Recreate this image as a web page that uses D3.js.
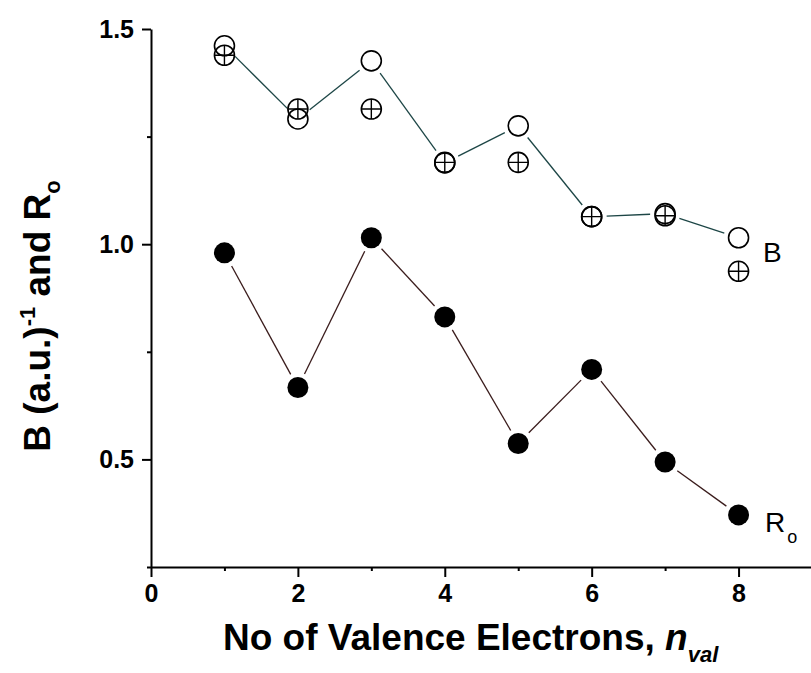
<!DOCTYPE html>
<html><head><meta charset="utf-8">
<script src="https://cdn.jsdelivr.net/npm/d3@7"></script>
<style>body{margin:0;background:#fff} svg{display:block}</style>
</head><body>
<svg id="chart" width="811" height="673"></svg>
<script>
// Number of valence electrons
const nVal = [1, 2, 3, 4, 5, 6, 7, 8];
// B (a.u.)^-1, open circles (connected)
const bOpen = [1.461, 1.291, 1.426, 1.189, 1.275, 1.064, 1.071, 1.015];
// B (a.u.)^-1, crossed circles
const bCrossed = [1.439, 1.314, 1.314, 1.190, 1.190, 1.064, 1.066, 0.937];
// R_o, filled circles (connected)
const rO = [0.980, 0.667, 1.015, 0.831, 0.537, 0.709, 0.494, 0.371];

const xTicks = [0, 2, 4, 6, 8];
const xMinorTicks = [1, 3, 5, 7];
const yTicks = [0.5, 1.0, 1.5];
const yMinorTicks = [0.25, 0.75, 1.25];

const svg = d3.select('#chart');
const x = d3.scaleLinear().domain([0, 9]).range([151, 812]);
const y = d3.scaleLinear().domain([0.25, 1.5]).range([567, 29]);
const FONT = "'Liberation Sans', Arial, Helvetica, sans-serif";

// ---- axes ----
const xAxis = svg.append('g').attr('transform', `translate(0,${y(0.25)})`)
  .call(d3.axisBottom(x).tickValues(xTicks).tickSize(10).tickSizeOuter(0)
    .tickPadding(7).tickFormat(d3.format('d')));
svg.append('g').attr('transform', `translate(0,${y(0.25)})`)
  .call(d3.axisBottom(x).tickValues(xMinorTicks).tickSize(4).tickFormat(''))
  .call(g => g.select('.domain').remove());

const yAxis = svg.append('g').attr('transform', `translate(${x(0)},0)`)
  .call(d3.axisLeft(y).tickValues(yTicks).tickSize(9).tickSizeOuter(0)
    .tickPadding(8).tickFormat(d3.format('.1f')));
svg.append('g').attr('transform', `translate(${x(0)},0)`)
  .call(d3.axisLeft(y).tickValues(yMinorTicks).tickSize(4).tickFormat(''))
  .call(g => g.select('.domain').remove());

svg.selectAll('.domain').attr('stroke', '#000').attr('stroke-width', 2);
svg.selectAll('.tick line').attr('stroke', '#000').attr('stroke-width', 2);
svg.selectAll('.tick text')
  .attr('font-family', FONT).attr('font-weight', 'bold')
  .attr('font-size', 25).attr('fill', '#000');

// ---- connecting lines, broken short of each marker ----
function gappedSegments(xs, ys, gap) {
  const segs = [];
  for (let i = 0; i < xs.length - 1; i++) {
    const x1 = x(xs[i]), y1 = y(ys[i]), x2 = x(xs[i + 1]), y2 = y(ys[i + 1]);
    const len = Math.hypot(x2 - x1, y2 - y1);
    const ux = (x2 - x1) / len, uy = (y2 - y1) / len;
    segs.push([x1 + ux * gap, y1 + uy * gap, x2 - ux * gap, y2 - uy * gap]);
  }
  return segs;
}
function drawSegments(segs, color) {
  svg.append('g').selectAll('line').data(segs).join('line')
    .attr('x1', d => d[0]).attr('y1', d => d[1])
    .attr('x2', d => d[2]).attr('y2', d => d[3])
    .attr('stroke', color).attr('stroke-width', 1.3);
}
drawSegments(gappedSegments(nVal, bOpen, 15), '#1d4646');
drawSegments(gappedSegments(nVal, rO, 15), '#3a1c1c');

// ---- markers ----
const R = 10;
svg.append('g').selectAll('circle').data(nVal).join('circle')
  .attr('cx', d => x(d)).attr('cy', (d, i) => y(bOpen[i])).attr('r', R)
  .attr('fill', 'none').attr('stroke', '#000').attr('stroke-width', 1.6);

const crossed = svg.append('g').selectAll('g').data(nVal).join('g')
  .attr('transform', (d, i) => `translate(${x(d)},${y(bCrossed[i])})`);
crossed.append('circle').attr('r', R)
  .attr('fill', 'none').attr('stroke', '#000').attr('stroke-width', 1.6);
crossed.append('path').attr('d', `M${-R},0H${R}M0,${-R}V${R}`)
  .attr('stroke', '#000').attr('stroke-width', 1.4);

svg.append('g').selectAll('circle').data(nVal).join('circle')
  .attr('cx', d => x(d)).attr('cy', (d, i) => y(rO[i])).attr('r', 10.5)
  .attr('fill', '#000');

// ---- series labels ----
svg.append('text').attr('x', 763).attr('y', 262)
  .attr('font-family', FONT).attr('font-size', 28).attr('fill', '#000').text('B');
const roLabel = svg.append('text').attr('x', 765).attr('y', 532)
  .attr('font-family', FONT).attr('font-size', 28).attr('fill', '#000');
roLabel.append('tspan').text('R');
roLabel.append('tspan').attr('font-size', 18).attr('dy', 11).attr('dx', 2).text('o');

// ---- axis titles ----
const xt = svg.append('text').attr('x', 223).attr('y', 650)
  .attr('font-family', FONT).attr('font-weight', 'bold')
  .attr('font-size', 37).attr('fill', '#000');
xt.append('tspan').text('No of Valence Electrons, ');
xt.append('tspan').attr('font-style', 'italic').text('n');
xt.append('tspan').attr('font-style', 'italic').attr('font-size', 22)
  .attr('dy', 12).text('val');

const yt = svg.append('text')
  .attr('transform', 'translate(50,316) rotate(-90)')
  .attr('text-anchor', 'middle')
  .attr('font-family', FONT).attr('font-weight', 'bold')
  .attr('font-size', 37).attr('fill', '#000');
yt.append('tspan').text('B (a.u.)');
yt.append('tspan').attr('font-size', 22).attr('dy', -15).text('-1');
yt.append('tspan').attr('dy', 15).text(' and R');
yt.append('tspan').attr('font-size', 22).attr('dy', 10).text('o');
</script>
</body></html>
